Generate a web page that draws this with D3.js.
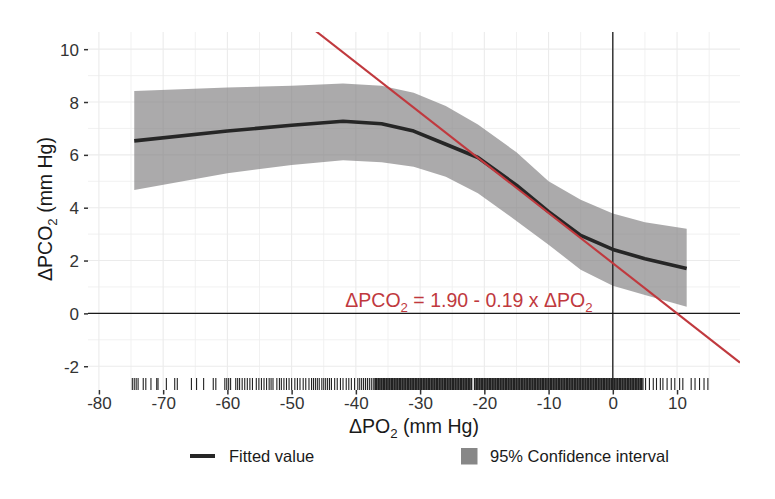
<!DOCTYPE html>
<html><head><meta charset="utf-8">
<script src="https://cdn.jsdelivr.net/npm/d3@7"></script>
<style>body{margin:0;background:#fff}svg{display:block}text{font-family:"Liberation Sans",Arial,sans-serif}</style>
</head><body>
<svg id="c" width="775" height="499"></svg>
<script>
// ---- data ----
const xCurve = [-74.5,-60,-50,-42,-36,-31,-26,-21,-15,-10,-5,0,5,11.5];
const fitted = [6.53,6.9,7.12,7.27,7.18,6.9,6.4,5.9,4.85,3.85,2.95,2.42,2.07,1.7];
const upper  = [8.42,8.55,8.62,8.7,8.62,8.35,7.85,7.15,6.1,5.0,4.3,3.78,3.45,3.2];
const lower  = [4.67,5.3,5.62,5.8,5.72,5.55,5.17,4.55,3.5,2.6,1.65,1.05,0.7,0.25];
const intercept = 1.90, slope = -0.19;
const xTicks = [-80,-70,-60,-50,-40,-30,-20,-10,0,10];
const yTicks = [-2,0,2,4,6,8,10];
const rugSparse = [-74.8,-74.5,-74.2,-73.9,-73.1,-72.7,-71.9,-71.0,-70.8,-69.5,-68.2,-67.8,-65.6,-64.8,-63.7,-62.2,-61.8,-60.4,-60.1,-59.8,-59.5,-58.7,-58.4,-58.1,-57.7,-57.3,-56.9,-56.5,-56.1,-55.5,-55.1,-54.7,-54.3,-53.9,-53.5,-53.2,-52.9,
 -52.3,-51.9,-51.6,-51.2,-50.8,-50.4,-50.0,-49.5,-49.1,-48.7,-48.2,-47.8,-47.3,-46.9,-46.6,-46.3,-46.0,-45.7,-45.3,-45.0,-44.7,-44.4,-44.1,-43.8,-43.3,-42.9,-42.4,-42.0,-41.5,-41.1,-40.7,-40.2,-39.7,-39.4,-39.1,-38.8,-38.5,-38.2,-37.9,-37.6,-37.3,
 4.7,5.1,5.7,6.3,6.8,7.4,7.8,8.45,9.1,9.65,10.4,10.9,12.2,12.8,13.5,14.2,14.8];
const rugDense = [-37,-36.75,-36.5,-36.25,-36,-35.75,-35.5,-35.25,-35,-34.75,-34.5,-34.25,-34,-33.75,-33.5,-33.25,-33,-32.75,-32.5,-32.25,-32,-31.75,-31.5,-31.25,-31,-30.75,-30.5,-30.25,-30,-29.75,-29.5,-29.25,-29,-28.75,-28.5,-28.25,-28,-27.75,-27.5,-27.25,-27,-26.75,-26.5,-26.25,-26,-25.75,-25.5,-25.25,-25,-24.75,-24.5,-24.25,-24,-23.75,-23.5,-23.25,-23,-22.75,-22.5,-22.25,-22,-21.5,-21.25,-21,-20.75,-20.5,-20.25,-20,-19.75,-19.5,-19.25,-19,-18.75,-18.5,-18.25,-18,-17.75,-17.5,-17.25,-17,-16.75,-16.5,-16.25,-16,-15.75,-15.5,-15.25,-15,-14.75,-14.5,-14.25,-14,-13.75,-13.5,-13.25,-13,-12.75,-12.5,-12.25,-12,-11.75,-11.5,-11.25,-11,-10.75,-10.5,-10.25,-10,-9.75,-9.5,-9.25,-9,-8.75,-8.5,-8.25,-8,-7.75,-7.5,-7.25,-7,-6.75,-6.5,-6.25,-6,-5.75,-5.5,-5.25,-5,-4.75,-4.5,-4.25,-4,-3.75,-3.5,-3.25,-3,-2.75,-2.5,-2.25,-2,-1.75,-1.5,-1.25,-1,-0.75,-0.5,-0.25,0,0.25,0.5,0.75,1,1.25,1.5,1.75,2,2.25,2.5,2.75,3,3.25,3.5,3.75,4,4.25,4.5];

// ---- layout ----
const svg = d3.select("#c");
const L=88, R=740, T=32, B=390;
const x = d3.scaleLinear().domain([-81.7,19.8]).range([L,R]);
const y = d3.scaleLinear().domain([-2.9,10.65]).range([B,T]);

svg.append("clipPath").attr("id","clip").append("rect").attr("x",L).attr("y",T).attr("width",R-L).attr("height",B-T);

// grid
const g = svg.append("g");
const xMinor = d3.range(-75,20,10), yMinor = d3.range(-1,11,2);
g.selectAll(".xm").data(xMinor).join("line").attr("x1",d=>x(d)).attr("x2",d=>x(d)).attr("y1",T).attr("y2",B).attr("stroke","#efefef").attr("stroke-width",0.9);
g.selectAll(".ym").data(yMinor).join("line").attr("y1",d=>y(d)).attr("y2",d=>y(d)).attr("x1",L).attr("x2",R).attr("stroke","#efefef").attr("stroke-width",0.9);
g.selectAll(".xM").data(xTicks).join("line").attr("x1",d=>x(d)).attr("x2",d=>x(d)).attr("y1",T).attr("y2",B).attr("stroke","#ebebeb").attr("stroke-width",1.1);
g.selectAll(".yM").data(yTicks).join("line").attr("y1",d=>y(d)).attr("y2",d=>y(d)).attr("x1",L).attr("x2",R).attr("stroke","#ebebeb").attr("stroke-width",1.1);

// band
const pts = xCurve.map((v,i)=>({x:v,f:fitted[i],u:upper[i],l:lower[i]}));
svg.append("path").datum(pts)
  .attr("d", d3.area().x(d=>x(d.x)).y0(d=>y(d.l)).y1(d=>y(d.u)))
  .attr("fill","#7f7e7f").attr("fill-opacity",0.66);

// reference lines
svg.append("line").attr("x1",L).attr("x2",R).attr("y1",y(0)).attr("y2",y(0)).attr("stroke","#1a1a1a").attr("stroke-width",1.3);
svg.append("line").attr("x1",x(0)).attr("x2",x(0)).attr("y1",T).attr("y2",B).attr("stroke","#1a1a1a").attr("stroke-width",1.3);

// rug
const rugLen = 12;
svg.append("g").selectAll("line").data(rugSparse).join("line")
  .attr("x1",d=>x(d)).attr("x2",d=>x(d)).attr("y1",B-rugLen).attr("y2",B)
  .attr("stroke","#222").attr("stroke-width",1.1);
svg.append("g").selectAll("line").data(rugDense).join("line")
  .attr("x1",d=>x(d)).attr("x2",d=>x(d)).attr("y1",B-rugLen).attr("y2",B)
  .attr("stroke","#222").attr("stroke-width",1.7);

// fitted curve
svg.append("path").datum(pts)
  .attr("d", d3.line().x(d=>x(d.x)).y(d=>y(d.f)))
  .attr("fill","none").attr("stroke","#262626").attr("stroke-width",3.6).attr("stroke-linejoin","round");

// regression line
const xd = x.domain();
svg.append("line").attr("clip-path","url(#clip)")
  .attr("x1",x(xd[0])).attr("y1",y(intercept+slope*xd[0]))
  .attr("x2",x(xd[1])).attr("y2",y(intercept+slope*xd[1]))
  .attr("stroke","#c0393e").attr("stroke-width",2.1);

// axes
const xAxis = svg.append("g").attr("transform",`translate(0,${B})`)
  .call(d3.axisBottom(x).tickValues(xTicks).tickSize(4.5).tickPadding(3).tickFormat(d=>String(d)));
const yAxis = svg.append("g").attr("transform",`translate(${L},0)`)
  .call(d3.axisLeft(y).tickValues(yTicks).tickSize(4).tickPadding(5).tickFormat(d=>String(d)));
[xAxis,yAxis].forEach(a=>{
  a.select(".domain").remove();
  a.selectAll(".tick line").attr("stroke","#333").attr("stroke-width",1.5);
  a.selectAll(".tick text").attr("fill","#333").style("font-size","17px").style("font-family","'Liberation Sans',Arial,sans-serif");
});
xAxis.selectAll(".tick text").attr("dy","0.7em");
yAxis.selectAll(".tick text").attr("dy","0.36em");

// text with subscripts
function subText(t, parts){
  let pending = 0;
  parts.forEach(p=>{
    const s = t.append("tspan").text(p[0]);
    if(p[1]){ s.attr("dy", 5 - pending).style("font-size","0.68em"); pending = 5; }
    else if(pending){ s.attr("dy", -pending); pending = 0; }
  });
}

// axis titles
const xt = svg.append("text").attr("x",(L+R)/2).attr("y",433).attr("text-anchor","middle").attr("fill","#1a1a1a").style("font-size","19.5px");
subText(xt, [["\u0394PO"],["2",1],[" (mm Hg)"]]);
const yt = svg.append("text").attr("transform",`translate(52,209) rotate(-90)`).attr("text-anchor","middle").attr("fill","#1a1a1a").style("font-size","19.5px");
subText(yt, [["\u0394PCO"],["2",1],[" (mm Hg)"]]);

// annotation
const an = svg.append("text").attr("x",x(-22.4)).attr("y",306.5).attr("text-anchor","middle").attr("fill","#c0393e").style("font-size","19.5px");
subText(an, [["\u0394PCO"],["2",1],[" = 1.90 - 0.19 x \u0394PO"],["2",1]]);

// legend
svg.append("line").attr("x1",190).attr("x2",215).attr("y1",456).attr("y2",456).attr("stroke","#262626").attr("stroke-width",4);
svg.append("text").attr("x",229).attr("y",461.8).attr("fill","#1a1a1a").style("font-size","16.5px").text("Fitted value");
svg.append("rect").attr("x",461).attr("y",448).attr("width",16.5).attr("height",16.5).attr("fill","#878787");
svg.append("text").attr("x",490).attr("y",461.8).attr("fill","#1a1a1a").style("font-size","16.5px").text("95% Confidence interval");
</script>
</body></html>
